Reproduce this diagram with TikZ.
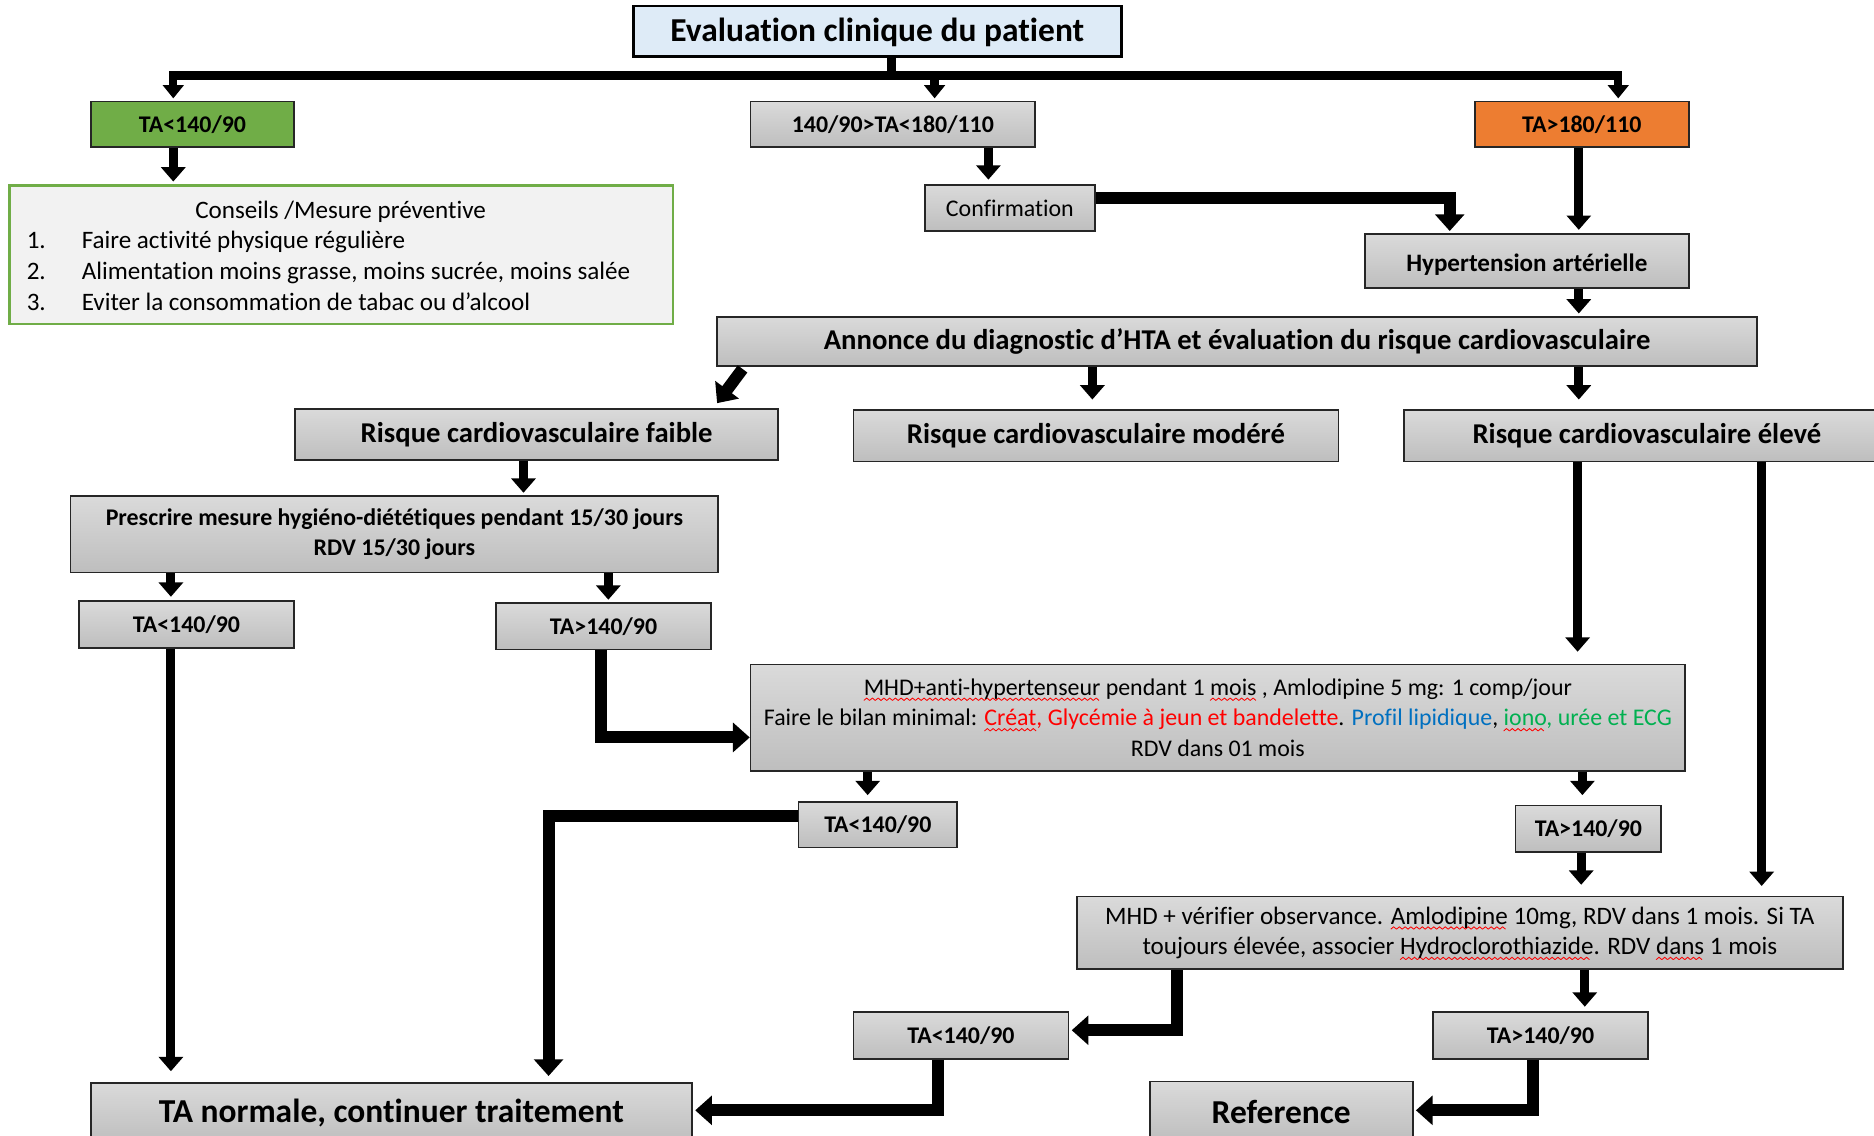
\documentclass[tikz,border=0pt]{standalone}
\usepackage{fontspec}
\setmainfont{Carlito}[Ligatures={NoCommon}]
\usetikzlibrary{arrows.meta}
\definecolor{gtop}{RGB}{218,218,218}
\definecolor{gbot}{RGB}{190,190,190}
\definecolor{tgreen}{RGB}{112,173,71}
\definecolor{torange}{RGB}{237,125,49}
\definecolor{tblue}{RGB}{222,235,247}
\definecolor{cfill}{RGB}{242,242,242}
\definecolor{tred}{RGB}{255,0,0}
\definecolor{lblue}{RGB}{0,112,192}
\definecolor{lgreen}{RGB}{0,176,80}
\newsavebox\wavebox
\newlength\spllen
\newcommand\spl[1]{\settowidth\spllen{#1}\leavevmode\rlap{\raisebox{-2.4pt}[0pt][0pt]{\hbox to\spllen{\leaders\copy\wavebox\hfill}}}#1}
\begin{document}
\sbox\wavebox{\begin{pgfpicture}
\pgfsetlinewidth{0.35pt}\pgfsetstrokecolor{red}
\pgfpathmoveto{\pgfpoint{0pt}{-0.5pt}}
\pgfpathlineto{\pgfpoint{1.2pt}{0.5pt}}
\pgfpathlineto{\pgfpoint{2.4pt}{-0.5pt}}
\pgfusepath{stroke}
\pgfresetboundingbox
\pgfpathrectangle{\pgfpoint{0pt}{-0.8pt}}{\pgfpoint{2.4pt}{1.6pt}}
\pgfusepath{use as bounding box}
\end{pgfpicture}}
\begin{tikzpicture}[x=0.5pt,y=-0.5pt,
  gbox/.style={draw=black!85, line width=0.7pt, top color=gtop, bottom color=gbot, inner sep=0pt, align=center, text=black},
  tabox/.style={gbox, minimum width=90pt, minimum height=19.5pt, font=\bfseries\fontsize{10}{12}\selectfont},
  reg/.style={font=\fontsize{10.5}{12.75}\selectfont},
  regs/.style={font=\fontsize{10}{12.75}\selectfont},
  arr/.style={line width=3.8pt, -{Triangle[width=10pt,length=6pt]}, line join=miter},
  arrS/.style={line width=3.5pt, -{Triangle[width=8.5pt,length=5.5pt]}, line join=miter},
  arrW/.style={line width=5pt, -{Triangle[width=12pt,length=7pt]}, line join=miter}]
\useasboundingbox (0,0) rectangle (1568,950);
\fill[white] (0,0) rectangle (1568,950);
\clip (0,0) rectangle (1568,950);

% nodes
\node[draw=black, line width=1.2pt, fill=tblue, minimum width=204pt, minimum height=21pt, inner sep=0pt,
      font=\bfseries\fontsize{14}{16}\selectfont, text height=9.1pt, text depth=0pt] (title) at (734,26) {Evaluation clinique du patient};
\node[draw=black!85, line width=0.7pt, fill=tgreen, minimum width=85pt, minimum height=19pt, inner sep=0pt,
      font=\bfseries\fontsize{10}{12}\selectfont] (g1) at (161,104) {TA<140/90};
\node[tabox, minimum width=119pt, minimum height=19pt] (mid) at (747,104) {140/90>TA<180/110};
\node[draw=black!85, line width=0.7pt, fill=torange, minimum width=89.5pt, minimum height=19pt, inner sep=0pt,
      font=\bfseries\fontsize{10}{12}\selectfont] (org) at (1323.5,104) {TA>180/110};

\node[draw=tgreen, line width=1.1pt, fill=cfill, minimum width=277.5pt, minimum height=58pt, inner sep=0pt] (cons) at (285.5,213) {};
\node[reg, anchor=base] (c0) at (285,183) {Conseils /Mesure préventive};
\node[reg, anchor=base west, inner sep=0pt] (n1) at (22,208) {1.};
\node[reg, anchor=base west, inner sep=0pt] (t1) at (68,208) {Faire activité physique régulière};
\node[reg, anchor=base west, inner sep=0pt] (n2) at (22,234) {2.};
\node[reg, anchor=base west, inner sep=0pt] (t2) at (68,234) {Alimentation moins grasse, moins sucrée, moins salée};
\node[reg, anchor=base west, inner sep=0pt] (n3) at (22,260) {3.};
\node[reg, anchor=base west, inner sep=0pt] (t3) at (68,260) {Eviter la consommation de tabac ou d’alcool};

\node[gbox, minimum width=71pt, minimum height=19pt, font=\fontsize{10}{12}\selectfont] (conf) at (845,174) {Confirmation};
\node[gbox, minimum width=135.5pt, minimum height=22.5pt, font=\bfseries\fontsize{10.5}{12}\selectfont, text height=8.3pt, text depth=0pt] (hta) at (1277.5,218.5) {Hypertension artérielle};
\node[gbox, minimum width=435pt, minimum height=20.5pt, font=\bfseries\fontsize{12}{14}\selectfont] (ann) at (1035,285.5) {Annonce du diagnostic d’HTA et évaluation du risque cardiovasculaire};

\node[gbox, minimum width=202pt, minimum height=21.5pt, font=\bfseries\fontsize{12}{14}\selectfont] (faib) at (449,363.5) {Risque cardiovasculaire faible};
\node[gbox, minimum width=203pt, minimum height=21.5pt, font=\bfseries\fontsize{12}{14}\selectfont] (mod) at (917,364.5) {Risque cardiovasculaire modéré};
\node[gbox, minimum width=203pt, minimum height=21.5pt, font=\bfseries\fontsize{12}{14}\selectfont] (elev) at (1378,364.5) {Risque cardiovasculaire élevé};

\node[gbox, minimum width=271pt, minimum height=32pt, font=\bfseries\fontsize{10}{12.5}\selectfont] (presc) at (330,447) {Prescrire mesure hygiéno-diététiques pendant 15/30 jours\\RDV 15/30 jours};
\node[tabox] (ta1) at (156,522.5) {TA<140/90};
\node[tabox] (ta2) at (505,524) {TA>140/90};

\node[gbox, regs, minimum width=391pt, minimum height=44.5pt] (mhd) at (1019,600.5)
 {\spl{MHD+anti-hypertenseur} pendant 1 \spl{mois} , Amlodipine 5 mg: 1 comp/jour\\
  Faire le bilan minimal: \textcolor{tred}{\spl{Créat}, Glycémie à jeun et bandelette}. \textcolor{lblue}{Profil lipidique}, \textcolor{lgreen}{\spl{iono}, urée et ECG}\\
  RDV dans 01 mois};

\node[tabox, minimum width=66.5pt, minimum height=19pt] (ta3) at (734.5,690) {TA<140/90};
\node[tabox, minimum width=61pt] (ta4) at (1329,693.5) {TA>140/90};

\node[gbox, reg, minimum width=320.5pt, minimum height=30.5pt] (verif) at (1221.5,780.5)
 {MHD + vérifier observance. \spl{Amlodipine} 10mg, RDV dans 1 mois. Si TA\\
  toujours élevée, associer \spl{Hydroclorothiazide}. RDV \spl{dans} 1 mois};

\node[tabox] (ta5) at (804,866.5) {TA<140/90};
\node[tabox] (ta6) at (1289,866.5) {TA>140/90};

\node[gbox, minimum width=251.5pt, minimum height=25pt, font=\bfseries\fontsize{14}{16}\selectfont] (norm) at (327.5,931) {TA normale, continuer traitement};
\node[gbox, minimum width=110pt, minimum height=25pt, font=\bfseries\fontsize{14}{16}\selectfont] (ref) at (1072,930) {Reference};

% connectors
\draw[line width=3.5pt] ([xshift=6pt]title.south) -- ++(0,15) coordinate (bj);
\draw[arrS] (bj) -| ([xshift=-8pt,yshift=1pt]g1.north);
\draw[arrS] (bj) -| ([xshift=17.5pt,yshift=1pt]mid.north);
\draw[arrS] (bj) -| ([xshift=15.25pt,yshift=1pt]org.north);

\draw[arr] ([xshift=-8pt]g1.south) -- ([xshift=-8pt,yshift=1pt]g1.south |- cons.north);
\draw[arr] ([xshift=40pt]mid.south) -- ([xshift=40pt,yshift=2pt]mid.south |- conf.north);
\draw[arrW] ([yshift=4pt]conf.east) -| ([xshift=-32.25pt,yshift=1pt]hta.north);
\draw[arr] ([xshift=-1.25pt]org.south) -- ([xshift=-1.25pt,yshift=1.5pt]org.south |- hta.north);
\draw[arr] ([xshift=21.75pt]hta.south) -- ([xshift=21.75pt,yshift=1pt]hta.south |- ann.north);

\draw[arrW] ([xshift=11pt,yshift=-1pt]ann.south west) -- ([xshift=75.5pt,yshift=2pt]faib.north);
\draw[arr] ([xshift=-1.5pt]mod.north |- ann.south) -- ([xshift=-1.5pt,yshift=4pt]mod.north);
\draw[arr] ([xshift=-28.5pt]elev.north |- ann.south) -- ([xshift=-28.5pt,yshift=4pt]elev.north);

\draw[arr] ([xshift=-5.5pt]faib.south) -- ([xshift=-5.5pt,yshift=1pt]faib.south |- presc.north);
\draw[arr] ([xshift=-6.5pt]ta1.north |- presc.south) -- ([xshift=-6.5pt,yshift=1.5pt]ta1.north);
\draw[arr] ([xshift=2pt]ta2.north |- presc.south) -- ([xshift=2pt,yshift=1pt]ta2.north);

\draw[arr] ([xshift=-6.5pt]ta1.south) -- ([xshift=-6.5pt,yshift=4.5pt]ta1.south |- norm.north);
\draw[arrW] ([xshift=-1pt]ta2.south) |- ([yshift=-8.25pt]mhd.west);

\draw[arr] ([xshift=-29pt]elev.south) -- ([xshift=-29pt,yshift=5pt]elev.south |- mhd.north);
\draw[arr] ([xshift=48pt]elev.south) -- ([xshift=48pt,yshift=4pt]elev.south |- verif.north);

\draw[arr] ([xshift=-4.25pt]ta3.north |- mhd.south) -- ([xshift=-4.25pt,yshift=2.5pt]ta3.north);
\draw[arr] ([xshift=-2.5pt]ta4.north |- mhd.south) -- ([xshift=-2.5pt,yshift=4pt]ta4.north);

\draw[arrW] ([yshift=3.5pt]ta3.west) -| ([xshift=65.75pt,yshift=2.5pt]norm.north);
\draw[arr] ([xshift=-3pt]ta4.south) -- ([xshift=-3pt,yshift=4.5pt]ta4.south |- verif.north);

\draw[arrW] ([xshift=-118.25pt]verif.south) |- ([xshift=1pt,yshift=2.25pt]ta5.east);
\draw[arr] ([xshift=52.25pt]verif.south) -- ([xshift=52.25pt,yshift=2pt]verif.south |- ta6.north);

\draw[arrW] ([xshift=-9.5pt]ta5.south) |- ([xshift=1pt,yshift=1pt]norm.east);
\draw[arrW] ([xshift=-3pt]ta6.south) |- ([xshift=1pt,yshift=0.5pt]ref.east);
\end{tikzpicture}
\end{document}
